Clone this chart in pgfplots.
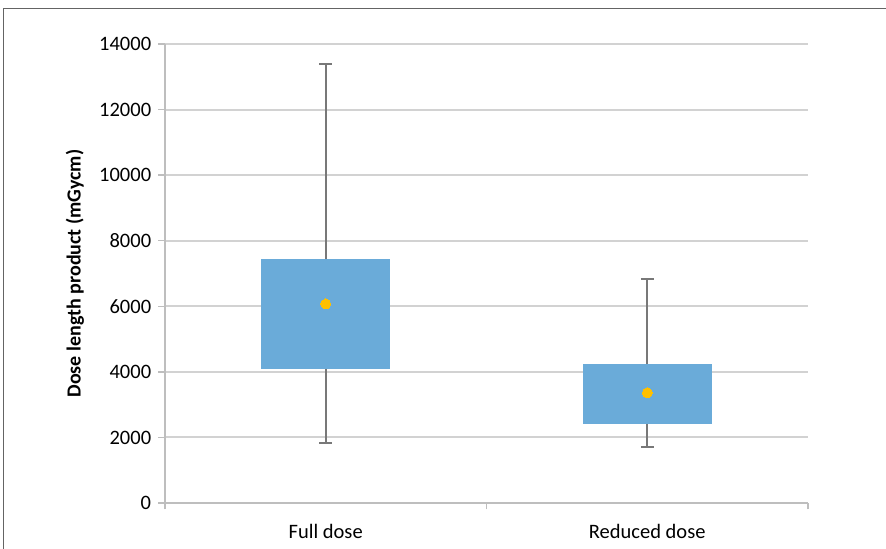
\documentclass[border=0pt]{standalone}
\usepackage{fontspec}
\setmainfont{Carlito}
\usepackage{pgfplots}
\pgfplotsset{compat=1.18}
\definecolor{boxblue}{RGB}{106,171,217}
\definecolor{meanyellow}{RGB}{255,192,0}
\definecolor{whiskgray}{RGB}{120,120,120}
\definecolor{gridgray}{RGB}{210,210,210}
\definecolor{axisgray}{RGB}{190,190,190}
\definecolor{framegray}{RGB}{100,100,100}
\begin{document}
\fontsize{20bp}{24bp}\selectfont
\begin{tikzpicture}
\useasboundingbox (0,0) rectangle (886bp,549bp);
\draw[framegray, line width=1.5bp] (3.5bp,0) -- (3.5bp,540.5bp) -- (886bp,540.5bp);
\begin{axis}[
  at={(165bp,46bp)}, anchor=south west,
  scale only axis, width=643bp, height=459bp,
  xmin=0.5, xmax=2.5, ymin=0, ymax=14000,
  axis x line*=bottom, axis y line*=left,
  axis line style={-, draw=axisgray, line width=1.3bp},
  xtick={1,2}, xticklabels={Full dose, Reduced dose},
  minor xtick={0.5,1.5,2.5},
  ytick={0,2000,4000,6000,8000,10000,12000,14000},
  tick align=outside,
  major x tick style={draw=none},
  minor x tick style={draw=axisgray, line width=1.3bp},
  minor tick length=6.5bp,
  y tick style={draw=axisgray, line width=1.3bp},
  major tick length=7bp,
  ymajorgrids,
  major grid style={draw=gridgray, line width=2bp},
  scaled y ticks=false,
  /pgf/number format/1000 sep={},
  /pgf/number format/assume math mode=true,
  tick label style={font=\fontsize{20.5bp}{24bp}\selectfont, text=black},
  xticklabel style={yshift=-7bp},
  ylabel={\bfseries Dose length product (mGycm)},
  every axis y label/.style={at={(rel axis cs:0,0.5)}, xshift=-90bp, rotate=90, anchor=center, font=\fontsize{20bp}{24bp}\selectfont},
  clip=false,
]
% boxes (lower quartile to upper quartile)
\addplot[fill=boxblue, draw=none] coordinates {(0.8,4090) (1.2,4090) (1.2,7440) (0.8,7440)} -- cycle;
\addplot[fill=boxblue, draw=none] coordinates {(1.8,2410) (2.2,2410) (2.2,4250) (1.8,4250)} -- cycle;
% whiskers
\addplot[draw=whiskgray, line width=1.8bp] coordinates {(1,7440) (1,13390)};
\addplot[draw=whiskgray, line width=1.8bp] coordinates {(1,4090) (1,1830)};
\addplot[draw=whiskgray, line width=1.8bp] coordinates {(0.98,13390) (1.02,13390)};
\addplot[draw=whiskgray, line width=1.8bp] coordinates {(0.98,1830) (1.02,1830)};
\addplot[draw=whiskgray, line width=1.8bp] coordinates {(2,4250) (2,6820)};
\addplot[draw=whiskgray, line width=1.8bp] coordinates {(2,2410) (2,1700)};
\addplot[draw=whiskgray, line width=1.8bp] coordinates {(1.98,6820) (2.02,6820)};
\addplot[draw=whiskgray, line width=1.8bp] coordinates {(1.98,1700) (2.02,1700)};
% means
\addplot[only marks, color=meanyellow, mark=*, mark size=5bp, mark options={fill=meanyellow, draw=meanyellow, line width=0pt}]
  coordinates {(1,6070) (2,3360)};
\end{axis}
\end{tikzpicture}
\end{document}
